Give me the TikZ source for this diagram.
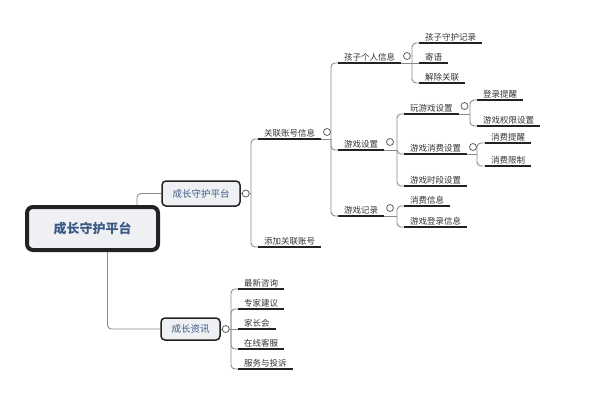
\documentclass[tikz,border=0pt]{standalone}
\usepackage{fontspec}
\setmainfont{Noto Sans CJK SC}
\usetikzlibrary{calc, backgrounds}
\definecolor{ink}{HTML}{222222}
\definecolor{wire}{HTML}{8A8A8A}
\definecolor{paper}{HTML}{EEF0F4}
\definecolor{navy}{HTML}{3A5A85}
\definecolor{mute}{HTML}{333333}
\tikzset{
  root/.style   = {rectangle, rounded corners=6pt, draw=ink, line width=4pt, fill=paper,
                   minimum width=131pt, minimum height=43pt,
                   font=\fontsize{13}{15}\selectfont\bfseries, text=navy},
  branch/.style = {rectangle, rounded corners=4pt, draw=ink, line width=1.5pt, fill=paper,
                   minimum height=25pt, font=\fontsize{9.5}{11}\selectfont, text=navy},
  leaf/.style   = {anchor=south west, inner xsep=6pt, inner ysep=2pt, outer sep=0pt,
                   font=\fontsize{8.5}{10}\selectfont, text=mute},
  uline/.style  = {draw=ink, line width=2.5pt},
  conn/.style   = {draw=wire, line width=0.9pt, rounded corners=4pt},
  fold/.style   = {circle, draw=wire!70!black, fill=white, line width=0.8pt,
                   minimum size=7pt, inner sep=0pt},
}
\begin{document}
\begin{tikzpicture}[x=1pt, y=-1pt]
\useasboundingbox (0,0) rectangle (600,400);

% ---- Root and main branches ----
\node[root] (root) at (92.5,228.5) {成长守护平台};
\node[branch, minimum width=78pt] (guard) at (201,193.5) {成长守护平台};
\node[branch, minimum width=59pt, minimum height=22pt] (news) at (190.5,329) {成长资讯};

% ---- Account level ----
\node[leaf] (acct)    at (258,139) {关联账号信息};
\node[leaf] (addacct) at (258,247) {添加关联账号};

% ---- Account info ----
\node[leaf] (child)   at (338,63)  {孩子个人信息};
\node[leaf] (gameset) at (338,150) {游戏设置};
\node[leaf] (gamelog) at (338,216) {游戏记录};

% ---- Child info ----
\node[leaf] (record) at (419,43) {孩子守护记录};
\node[leaf] (msg)    at (419,63) {寄语};
\node[leaf] (unlink) at (419,83) {解除关联};

% ---- Game settings ----
\node[leaf] (play)      at (404,114) {玩游戏设置};
\node[leaf] (pay)       at (404,154) {游戏消费设置};
\node[leaf] (period)    at (404,186) {游戏时段设置};
\node[leaf] (login)     at (477,100) {登录提醒};
\node[leaf] (perm)      at (477,126) {游戏权限设置};
\node[leaf] (payremind) at (485,143) {消费提醒};
\node[leaf] (paylimit)  at (485,166) {消费限制};

% ---- Game log ----
\node[leaf] (payinfo)   at (404,206) {消费信息};
\node[leaf] (logininfo) at (404,227) {游戏登录信息};

% ---- News ----
\node[leaf] (latest)   at (238,289) {最新咨询};
\node[leaf] (expert)   at (238,309) {专家建议};
\node[leaf] (meeting)  at (238,329) {家长会};
\node[leaf] (service)  at (238,349) {在线客服};
\node[leaf] (complain) at (238,369) {服务与投诉};

% ===== Underlines =====
\foreach \n in {acct, addacct, child, gameset, gamelog, record, msg, unlink,
                play, pay, period, login, perm, payremind, paylimit,
                payinfo, logininfo, latest, expert, meeting, service, complain}
  \draw[uline] (\n.south west) -- (\n.south east);

% ===== Bus junctions =====
\coordinate (jguard)   at (251,193.5);
\coordinate (jacct)    at (331,139);
\coordinate (jchild)   at (412,63);
\coordinate (jgameset) at (397,150);
\coordinate (jgamelog) at (397,216);
\coordinate (jplay)    at (470,114);
\coordinate (jpay)     at (477,154);
\coordinate (jnews)    at (231,329);

% ===== Connectors =====
\begin{scope}[on background layer]
  \draw[conn] ($(root.north east)+(-23,0)$) |- (guard.west);
  \draw[conn] ($(root.south)+(15,0)$) |- (news.west);

  \draw[conn] (guard.east) -- (jguard);
  \draw[conn] (jguard) |- (acct.south west);
  \draw[conn] (jguard) |- (addacct.south west);

  \draw[conn] (acct.south east) -- (jacct);
  \foreach \c in {child, gameset, gamelog}
    \draw[conn] (jacct) |- (\c.south west);

  \draw[conn] (child.south east) -- (jchild);
  \draw[conn] (jchild) |- (record.south west);
  \draw[conn] (jchild) -- (msg.south west);
  \draw[conn] (jchild) |- (unlink.south west);

  \draw[conn] (gameset.south east) -- (jgameset);
  \foreach \c in {play, pay, period}
    \draw[conn] (jgameset) |- (\c.south west);

  \draw[conn] (play.south east) -- (jplay);
  \foreach \c in {login, perm}
    \draw[conn] (jplay) |- (\c.south west);

  \draw[conn] (pay.south east) -- (jpay);
  \foreach \c in {payremind, paylimit}
    \draw[conn] (jpay) |- (\c.south west);

  \draw[conn] (gamelog.south east) -- (jgamelog);
  \foreach \c in {payinfo, logininfo}
    \draw[conn] (jgamelog) |- (\c.south west);

  \draw[conn] (news.east) -- (jnews);
  \foreach \c in {latest, expert, service, complain}
    \draw[conn] (jnews) |- (\c.south west);
  \draw[conn] (jnews) -- (meeting.south west);
\end{scope}

% ===== Fold markers =====
\node[fold] (fguard)   at ($(guard.east)+(5,0)$) {};
\node[fold] (fnews)    at ($(news.east)+(5,0)$) {};
\node[fold] (facct)    at ($(acct.south east)+(6,-7)$) {};
\node[fold] (fchild)   at ($(child.south east)+(6,-7)$) {};
\node[fold] (fgameset) at ($(gameset.south east)+(6,-8)$) {};
\node[fold] (fgamelog) at ($(gamelog.south east)+(6,-8)$) {};
\node[fold] (fplay)    at ($(play.south east)+(6,-8)$) {};
\node[fold] (fpay)     at ($(pay.south east)+(6,-7)$) {};

\end{tikzpicture}
\end{document}
